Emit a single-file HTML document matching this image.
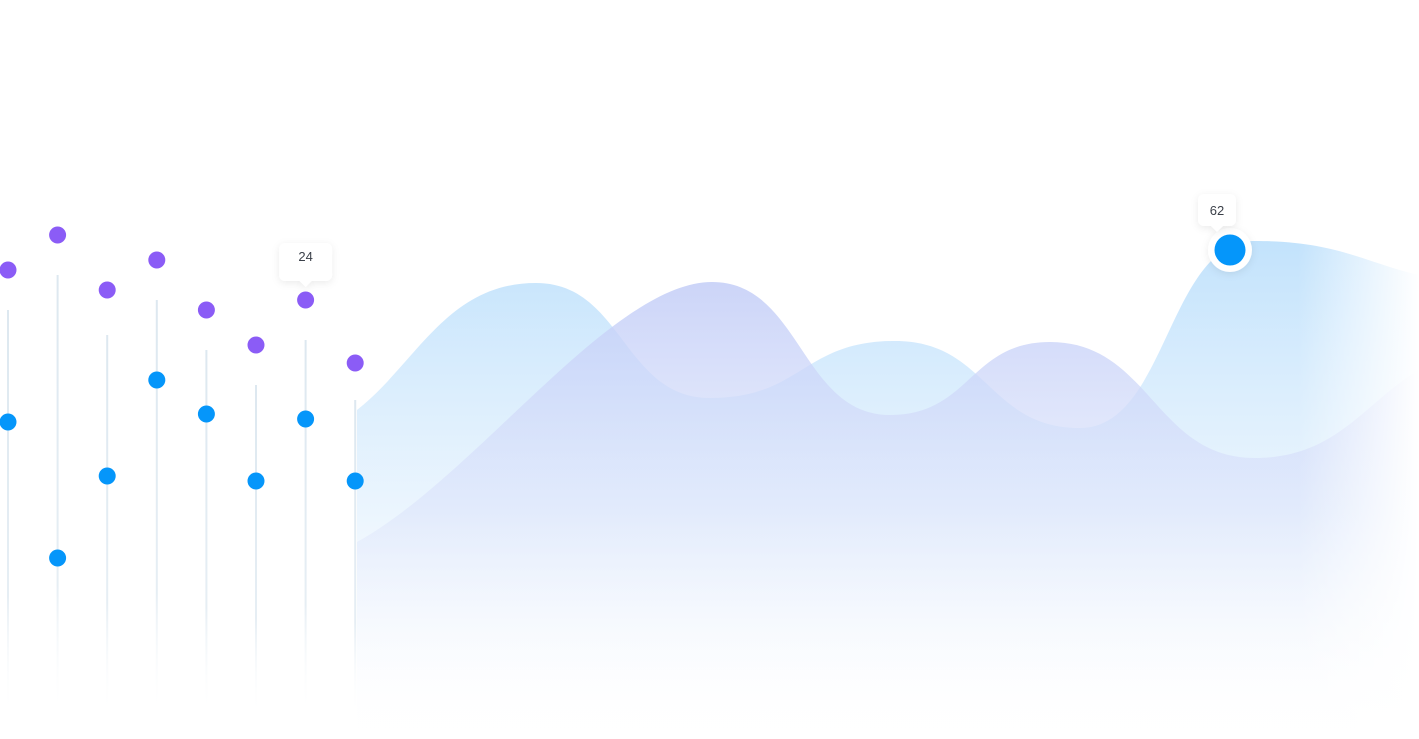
<!DOCTYPE html>
<html><head><meta charset="utf-8"><style>
html,body{margin:0;padding:0;background:#fff;width:1419px;height:739px;overflow:hidden;font-family:"Liberation Sans",sans-serif}
</style></head><body>
<svg id="chart" width="1419" height="739" viewBox="0 0 1419 739" xmlns="http://www.w3.org/2000/svg">
<defs>
<linearGradient id="gBlue" x1="0" y1="0" x2="0" y2="1"><stop offset="0" stop-color="#bfe1fc" stop-opacity="0.95"/><stop offset="0.55" stop-color="#e3f1fd" stop-opacity="0.7"/><stop offset="1" stop-color="#ffffff" stop-opacity="0"/></linearGradient>
<linearGradient id="gPurp" x1="0" y1="0" x2="0" y2="1"><stop offset="0" stop-color="#c3cdf7" stop-opacity="0.85"/><stop offset="0.5" stop-color="#dce4fb" stop-opacity="0.6"/><stop offset="1" stop-color="#ffffff" stop-opacity="0"/></linearGradient>
<linearGradient id="gFadeR" x1="0" y1="0" x2="1" y2="0"><stop offset="0" stop-color="#fff" stop-opacity="0"/><stop offset="0.55" stop-color="#fff" stop-opacity="0"/><stop offset="1" stop-color="#fff" stop-opacity="1"/></linearGradient>
<linearGradient id="gStem" x1="0" y1="0" x2="0" y2="1"><stop offset="0" stop-color="#dde8f0"/><stop offset="0.7" stop-color="#e6eef4"/><stop offset="1" stop-color="#fff" stop-opacity="0"/></linearGradient>
<filter id="sh" x="-50%" y="-50%" width="200%" height="200%"><feDropShadow dx="0" dy="2" stdDeviation="4" flood-color="#000" flood-opacity="0.08"/></filter>
</defs>
<g id="areas"></g>
<rect x="1150" y="150" width="269" height="589" fill="url(#gFadeR)"/>
<g id="lolli"></g>
<g id="tips"></g>
</svg>
<script>
const lolliCats=[0,1,2,3,4,5,6,7];
const purpleVals=[86,93,82,88,78,71,80,67.4];
const blueVals=[55.6,28.4,44.8,64,57.2,43.8,56.2,43.8];
const stemTops=[78,85,73,80,70,63,72,60];
const areaBlueX=[0,1,2,3,4,5,6];
const areaBlueVals=[58,83.4,60.4,71.8,54.4,91.8,85];
const areaPurpX=[0,1,2,3,4,5];
const areaPurpVals=[31.6,83.6,57,71.6,48.4,66];
const tipLabels=["24","62"];
const NS="http://www.w3.org/2000/svg";
const yS=v=>700-v*5;
const xL=i=>8+i*49.6;
const xBlue=[357,536,710,895,1080,1255,1419];
const xPurp=[357,712,890,1050,1255,1419];
function el(t,a,p){const e=document.createElementNS(NS,t);for(const k in a)e.setAttribute(k,a[k]);p.appendChild(e);return e;}
function smooth(xs,ys,f0,cap){const n=xs.length;const m=xs.map(()=>0);
m[0]=(ys[1]-ys[0])/(xs[1]-xs[0])*f0;m[n-1]=(ys[n-1]-ys[n-2])/(xs[n-1]-xs[n-2])*1.1;
let d=`M${xs[0]},${ys[0]}`;
for(let i=1;i<n;i++){const dx=xs[i]-xs[i-1];
const k0=(i-1===0)?dx/3:Math.min(dx/2,cap),k1=(i===n-1)?dx/3:Math.min(dx/2,cap);
d+=` C${xs[i-1]+k0},${ys[i-1]+m[i-1]*k0} ${xs[i]-k1},${ys[i]-m[i]*k1} ${xs[i]},${ys[i]}`;}return d;}
const areas=document.getElementById('areas');
const pb=areaBlueX.map(i=>xBlue[i]),yb=areaBlueVals.map(yS);
const a1=el('path',{d:smooth(pb,yb,1.1,100)+` L1419,739 L357,739 Z`,fill:'url(#gBlue)'},areas);


const pp=areaPurpX.map(i=>xPurp[i]),yp=areaPurpVals.map(yS);
const a2=el('path',{d:smooth(pp,yp,0.75,100)+` L1419,739 L357,739 Z`,fill:'url(#gPurp)'},areas);


const lg=document.getElementById('lolli');
lolliCats.forEach((c,i)=>{const x=xL(c);
const s=el('rect',{x:x-1,y:yS(stemTops[i]),width:2,height:718-yS(stemTops[i]),fill:'url(#gStem)'},lg);


const p=el('circle',{cx:x,cy:yS(purpleVals[i]),r:8.5,fill:'#8b5cf6'},lg);


const b=el('circle',{cx:x,cy:yS(blueVals[i]),r:8.5,fill:'#0596fa'},lg);

});
const tg=document.getElementById('tips');
const hx=1230,hy=yS(90);
const ring=el('circle',{cx:hx,cy:hy,r:22,fill:'#fff',filter:'url(#sh)'},tg);


const hd=el('circle',{cx:hx,cy:hy,r:15.5,fill:'#0596fa'},tg);


function tip(cx,top,w,h,txt,name,base){const g=el('g',{filter:'url(#sh)'},tg);


el('rect',{x:cx-w/2,y:top,width:w,height:h,rx:6,fill:'#fff'},g);
el('path',{d:`M${cx-6},${top+h} L${cx},${top+h+6} L${cx+6},${top+h} Z`,fill:'#fff'},g);
const t=el('text',{x:cx,y:base,'text-anchor':'middle','font-size':13,fill:'#3a3f48','font-family':'Liberation Sans, sans-serif'},g);t.textContent=txt;}
tip(xL(6),243,53,38,tipLabels[0],'tooltip-24',261);
tip(1217,194,38,32,tipLabels[1],'tooltip-62',215);
</script>
</body></html>
